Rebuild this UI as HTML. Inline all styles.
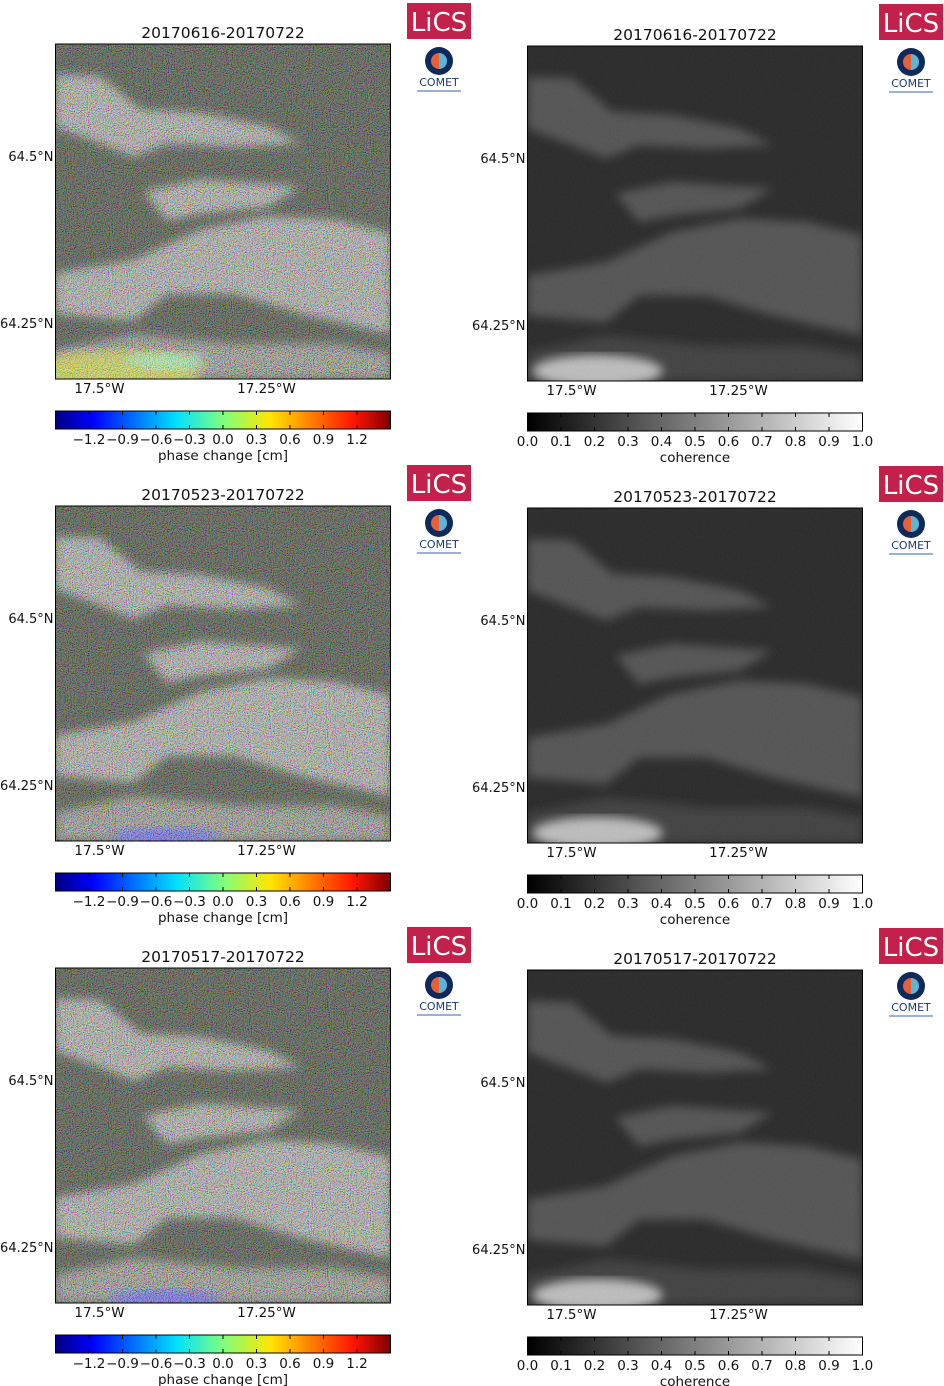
<!DOCTYPE html>
<html><head><meta charset="utf-8"><style>
body{margin:0;background:#fff;width:944px;height:1386px;overflow:hidden;font-family:"DejaVu Sans",sans-serif}
svg{position:absolute;left:0;top:0}
</style></head><body>
<svg id="s" width="944" height="1386" viewBox="0 0 944 1386">
<defs>
<filter id="nz" x="0" y="0" width="100%" height="100%"><feTurbulence type="fractalNoise" baseFrequency="0.95" numOctaves="1" seed="3"/><feColorMatrix type="matrix" values="2.6 0 0 0 -0.8  0 2.6 0 0 -0.8  0 0 2.6 0 -0.8  0 0 0 0 1"/></filter>
<filter id="nzg" x="0" y="0" width="100%" height="100%"><feTurbulence type="fractalNoise" baseFrequency="0.6" numOctaves="1" seed="5"/><feColorMatrix type="matrix" values="0.33 0.33 0.33 0 0 0.33 0.33 0.33 0 0 0.33 0.33 0.33 0 0 0 0 0 0 1"/></filter>
<filter id="bl"><feGaussianBlur stdDeviation="5"/></filter>
<linearGradient id="jet"><stop offset="0" stop-color="#00007f"/><stop offset="0.11" stop-color="#0000ff"/><stop offset="0.36" stop-color="#00e0ff"/><stop offset="0.5" stop-color="#7fff7f"/><stop offset="0.64" stop-color="#ffe600"/><stop offset="0.89" stop-color="#ff1400"/><stop offset="1" stop-color="#7f0000"/></linearGradient>
<linearGradient id="gray"><stop offset="0" stop-color="#000"/><stop offset="1" stop-color="#fff"/></linearGradient>
</defs>
</svg>
<script>
const titles=["20170616-20170722","20170523-20170722","20170517-20170722"];
const phaseTicks=[-1.2,-0.9,-0.6,-0.3,0.0,0.3,0.6,0.9,1.2];
const cohTicks=[0.0,0.1,0.2,0.3,0.4,0.5,0.6,0.7,0.8,0.9,1.0];
const latTicks=["64.5°N","64.25°N"];
const lonTicks=["17.5°W","17.25°W"];
const bands=[
[[0,92],[134,97],[254,197],[434,207],[634,247],[734,297],[534,307],[334,297],[234,337],[134,297],[0,247]],
[[264,442],[434,407],[734,427],[634,487],[434,507],[334,527]],
[[0,687],[234,647],[434,557],[634,517],[834,527],[1003,567],[1003,867],[734,807],[534,747],[334,747],[234,827],[0,807]],
[[0,917],[234,867],[534,897],[834,897],[1003,927],[1003,1003],[0,1003]]
];
const NS="http://www.w3.org/2000/svg";
const S=document.getElementById('s');
function el(t,a,p){const e=document.createElementNS(NS,t);for(const k in a)e.setAttribute(k,a[k]);(p||S).appendChild(e);return e;}
function txt(x,y,s,size,anchor,p){const e=el('text',{x:x,y:y,'font-size':size,'text-anchor':anchor||'middle',fill:'#111','font-family':'DejaVu Sans, Liberation Sans, sans-serif'},p);e.textContent=s;return e;}
function logos(x,y){
  const g=el('g',{});
  
  el('rect',{x:x,y:y,width:64,height:36,fill:'#c4204c'},g);
  const t=txt(x+32,y+28,'LiCS',26,'middle',g);t.setAttribute('fill','#fff');
  const c=el('g',{});
  
  el('circle',{cx:x+32,cy:y+58,r:14,fill:'#0d2a5a'},c);
  el('circle',{cx:x+32,cy:y+58,r:8,fill:'#e8603a'},c);
  el('path',{d:`M${x+32} ${y+50} a8 8 0 0 1 0 16z`,fill:'#5ab6d8'},c);
  const ct=txt(x+32,y+83,'COMET',11,'middle',c);ct.setAttribute('fill','#1a3a6a');
  el('rect',{x:x+10,y:y+87,width:44,height:2,fill:'#9ab0d8'},c);
}
function map(x,y,kind,row){
  const W=335,sc=W/1003;
  const g=el('g',{});
  
  
  const cp=el('clipPath',{id:'c'+kind+row},g);el('rect',{x:x,y:y,width:W,height:W},cp);
  const inner=el('g',{'clip-path':`url(#c${kind}${row})`},g);
  el('rect',{x:x,y:y,width:W,height:W,fill:kind==='phase'?'#454a40':'#1f1f1f'},inner);
  const bg=el('g',{filter:'url(#bl)'},inner);
  bands.forEach((b,i)=>{
    const pts=b.map(p=>(x+p[0]*sc)+','+(y+p[1]*sc)).join(' ');
    const e=el('polygon',{points:pts,fill:kind==='phase'?(i==3?'#7a7c74':'#8e908a'):(i==3?'#383838':'#4e4e4e')},bg);
    
  });
  if(kind==='phase'){
    if(row==0){
      el('ellipse',{cx:x+60,cy:y+W-8,rx:85,ry:20,fill:'#b8c050',filter:'url(#bl)'},inner);
      el('ellipse',{cx:x+110,cy:y+W-18,rx:40,ry:8,fill:'#90e090',filter:'url(#bl)'},inner);
    } else {
      el('ellipse',{cx:x+110,cy:y+W-5,rx:55,ry:8,fill:'#5a5ae0',filter:'url(#bl)'},inner);
    }
    el('rect',{x:x,y:y,width:W,height:W,filter:'url(#nz)',opacity:0.6,style:'mix-blend-mode:overlay'},inner);
    el('rect',{x:x,y:y,width:W,height:W,filter:'url(#nz)',opacity:0.22},inner);
  } else {
    el('ellipse',{cx:x+70,cy:y+W-10,rx:65,ry:16,fill:'#bdbdbd',filter:'url(#bl)'},inner);
    el('rect',{x:x,y:y,width:W,height:W,filter:'url(#nzg)',opacity:0.1},inner);
  }
  el('rect',{x:x,y:y,width:W,height:W,fill:'none',stroke:'#000','stroke-width':1},g);
  const yl=[y+112,y+279];
  latTicks.forEach((l,i)=>{const t=txt(x-2,yl[i]+5,l,13,'end');});
  const xl=[x+44,x+211];
  lonTicks.forEach((l,i)=>{const t=txt(xl[i],y+W+14,l,13.5);});
  const tt=txt(x+W/2,y-6,titles[row],15.5);
}
function cbar(x,y,kind){
  const W=335,H=18;
  const g=el('g',{});
  
  
  el('rect',{x:x,y:y,width:W,height:H,fill:kind==='phase'?'url(#jet)':'url(#gray)',stroke:'#000','stroke-width':1},g);
  if(kind==='phase'){
    const lo=-1.5,hi=1.5;
    phaseTicks.forEach(v=>{const px=x+(v-lo)/(hi-lo)*W;el('line',{x1:px,x2:px,y1:y,y2:y+4,stroke:'#000'},g);el('line',{x1:px,x2:px,y1:y+H-4,y2:y+H,stroke:'#000'},g);
      const t=txt(px,y+H+15,(v<0?'\u2212':'')+Math.abs(v).toFixed(1),13.5,'middle',g);});
    const l=txt(x+W/2,y+H+31,'phase change [cm]',13.5,'middle',g);
  } else {
    cohTicks.forEach(v=>{const px=x+v*W;el('line',{x1:px,x2:px,y1:y,y2:y+4,stroke:'#000'},g);el('line',{x1:px,x2:px,y1:y+H-4,y2:y+H,stroke:'#000'},g);
      const t=txt(px,y+H+15,v.toFixed(1),13.5,'middle',g);});
    const l=txt(x+W/2,y+H+31,'coherence',13.5,'middle',g);
  }
}
for(let r=0;r<3;r++){
  const o=r*462;
  map(55.5,44+o,'phase',r);
  map(527.5,46+o,'coh',r);
  cbar(55.5,411+o,'phase');
  cbar(527.5,413+o,'coh');
  logos(407,3+o);
  logos(879,4+o);
}
</script>
</body></html>
